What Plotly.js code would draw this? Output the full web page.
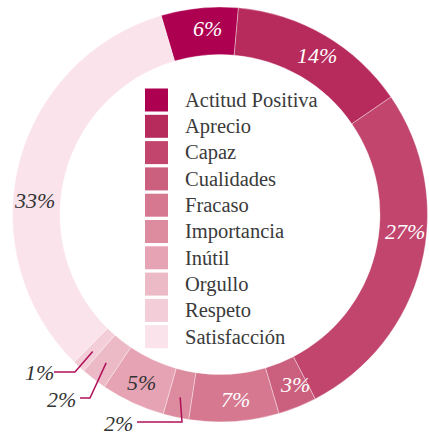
<!DOCTYPE html>
<html>
<head>
<meta charset="utf-8">
<script src="https://cdn.plot.ly/plotly-3.0.1.min.js"></script>
<style>html,body{margin:0;padding:0;background:#fff;}#chart{width:429px;height:437px;}</style>
</head>
<body>
<div id="chart"></div>
<script>
// ---- data ----
const categories = ["Actitud Positiva","Aprecio","Capaz","Cualidades","Fracaso","Importancia","Inútil","Orgullo","Respeto","Satisfacción"];
const percentages = [6, 14, 27, 3, 7, 2, 5, 2, 1, 33];
const sliceColors = ["#AE0050","#B72A5C","#C1456D","#CB5F7E","#D57890","#DD8CA0","#E6A3B4","#ECB9C6","#F3CDD7","#FAE3EA"];

// ---- style / layout constants ----
const W = 429, H = 437;
const cx = 220, cy = 214.5, R = 207.5, rIn = 160;
const startAngle = -16.5; // degrees, clockwise from 12 o'clock
const labelFrac = [0.59, 0.52, 0.41, 0.34, 0.46, 0.5, 0.51, 0.5, 0.5, 0.417];
const labelRad = 186;
const darkLabel = [false,false,false,false,false,true,true,true,true,true];
const outside = [false,false,false,false,false,true,false,true,true,false];
// leader line elbows (pixels) for outside labels: [elbow, lineEnd, textCenter]
const leaders = {
  5: {elbow:[182,422], end:[137,422], text:[118,423]},
  7: {elbow:[90,398], end:[80,398], text:[62,399]},
  8: {elbow:[75,372], end:[54,372], text:[39,372]}
};
const serif = "Liberation Serif, Times New Roman, serif";

const px = x => x / W;
const py = y => 1 - y / H;

const total = percentages.reduce((a,b)=>a+b,0);
const annotations = [];
const shapes = [];

let acc = 0;
percentages.forEach((v, i) => {
  const a0 = startAngle + acc / total * 360;
  const a1 = startAngle + (acc + v) / total * 360;
  acc += v;
  const txt = v + "%";
  if (!outside[i]) {
    const th = (a0 + labelFrac[i] * (a1 - a0)) * Math.PI / 180;
    annotations.push({
      xref:"paper", yref:"paper", x: px(cx + labelRad*Math.sin(th)), y: py(cy - labelRad*Math.cos(th)),
      text: "<i>"+txt+"</i>", showarrow:false, xanchor:"center", yanchor:"middle",
      font:{family:serif, size:22, color: darkLabel[i] ? "#333333" : "#ffffff"}
    });
  } else {
    const th = ((a0 + a1)/2) * Math.PI / 180;
    const sx = cx + 187*Math.sin(th), sy = cy - 187*Math.cos(th);
    const L = leaders[i];
    shapes.push({
      type:"path", xref:"paper", yref:"paper",
      path: `M ${px(sx)} ${py(sy)} L ${px(L.elbow[0])} ${py(L.elbow[1])} L ${px(L.end[0])} ${py(L.end[1])}`,
      line:{color:"#B0105A", width:1.5}
    });
    annotations.push({
      xref:"paper", yref:"paper", x: px(L.text[0]), y: py(L.text[1]),
      text: "<i>"+txt+"</i>", showarrow:false, xanchor:"center", yanchor:"middle",
      font:{family:serif, size:22, color:"#333333"}
    });
  }
});

// custom legend inside hole
const legX0 = 145, legSq = 23, legY0 = 100, legStep = 26.3, legTextX = 183;
categories.forEach((c, i) => {
  const yc = legY0 + i*legStep;
  shapes.push({
    type:"rect", xref:"paper", yref:"paper",
    x0: px(legX0), x1: px(legX0+legSq), y0: py(yc - legSq/2), y1: py(yc + legSq/2),
    fillcolor: sliceColors[i], line:{width:0}
  });
  annotations.push({
    xref:"paper", yref:"paper", x: px(legTextX), y: py(yc),
    text: c, showarrow:false, xanchor:"left", yanchor:"middle",
    font:{family:serif, size:20.5, color:"#3a3a3a"}
  });
});

const trace = {
  type:"pie",
  labels: categories,
  values: percentages,
  sort:false,
  direction:"clockwise",
  rotation: startAngle,
  hole: rIn / R,
  textinfo:"none",
  hoverinfo:"label+percent",
  marker:{colors: sliceColors, line:{color:"rgba(255,255,255,0.6)", width:0.6}},
  domain:{x:[(cx-R)/W, (cx+R)/W], y:[(H-cy-R)/H, (H-cy+R)/H]},
  showlegend:false
};

const layout = {
  width:W, height:H,
  margin:{l:0,r:0,t:0,b:0},
  paper_bgcolor:"#ffffff",
  showlegend:false,
  shapes: shapes,
  annotations: annotations
};

Plotly.newPlot("chart", [trace], layout, {displayModeBar:false, staticPlot:true});
</script>
</body>
</html>
